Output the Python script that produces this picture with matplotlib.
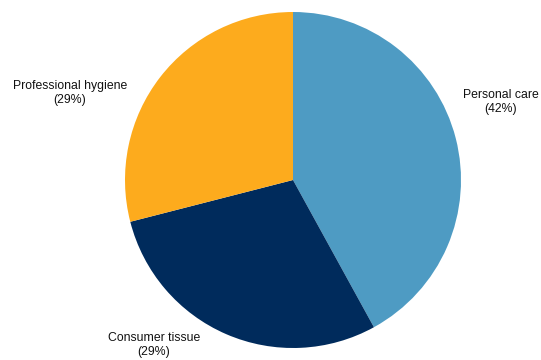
import matplotlib.pyplot as plt

labels = ['Personal care', 'Consumer tissue', 'Professional hygiene']
shares = [42, 29, 29]
colors = ['#4E9BC3', '#002B5C', '#FDAB1D']

# label positions in pixel-like data coords (x, y from bottom)
label_pos = [(501, 258), (154, 15), (70, 267)]

plt.rcParams['font.family'] = ['Liberation Sans', 'DejaVu Sans']

fig = plt.figure(figsize=(5.41, 3.60), dpi=100)
ax = fig.add_axes([0, 0, 1, 1])

ax.pie(shares, colors=colors, startangle=90, counterclock=False,
       center=(293, 180), radius=168, frame=True,
       wedgeprops={'linewidth': 0})
ax.set_xlim(0, 541)
ax.set_ylim(0, 360)
ax.set_aspect('equal')
ax.axis('off')

for lab, val, (x, y) in zip(labels, shares, label_pos):
    ax.text(x, y, lab + '\n(' + str(val) + '%)', ha='center', va='center',
            fontsize=8.8, color='#111111', linespacing=1.15)

fig.savefig('out.png', dpi=100, facecolor='white')
